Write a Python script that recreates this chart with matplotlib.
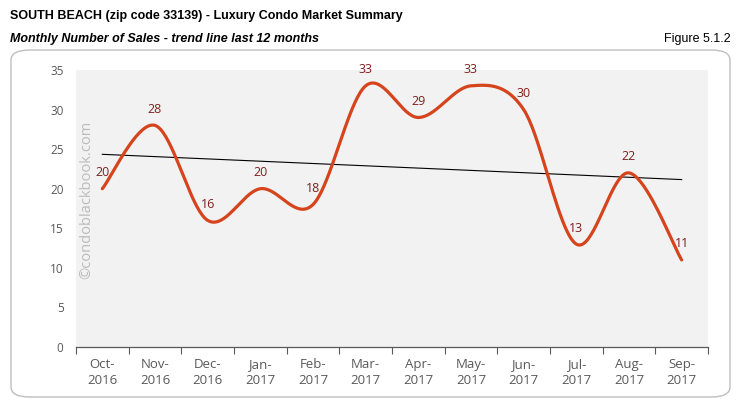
import matplotlib
matplotlib.use('Agg')
import matplotlib.pyplot as plt
from matplotlib.patches import FancyBboxPatch
import numpy as np

months = ['Oct-\n2016', 'Nov-\n2016', 'Dec-\n2016', 'Jan-\n2017', 'Feb-\n2017', 'Mar-\n2017',
          'Apr-\n2017', 'May-\n2017', 'Jun-\n2017', 'Jul-\n2017', 'Aug-\n2017', 'Sep-\n2017']
sales = [20, 28, 16, 20, 18, 33, 29, 33, 30, 13, 22, 11]
yticks = [0, 5, 10, 15, 20, 25, 30, 35]

title_font = ['Liberation Sans Narrow', 'Liberation Sans', 'DejaVu Sans']
axis_font = ['Open Sans', 'DejaVu Sans']


def smooth(x, y, n=40):
    # excel style smoothed line (catmull-rom through the points)
    p = np.column_stack([x, y]).astype(float)
    p = np.vstack([p[0], p, p[-1]])
    xs, ys = [], []
    t = np.linspace(0, 1, n)
    for i in range(1, len(p) - 2):
        p0, p1, p2, p3 = p[i - 1], p[i], p[i + 1], p[i + 2]
        c1 = p1 + (p2 - p0) / 6.0
        c2 = p2 - (p3 - p1) / 6.0
        b = (((1 - t) ** 3)[:, None] * p1 + (3 * (1 - t) ** 2 * t)[:, None] * c1
             + (3 * (1 - t) * t ** 2)[:, None] * c2 + (t ** 3)[:, None] * p2)
        xs.extend(b[:, 0])
        ys.extend(b[:, 1])
    return np.array(xs), np.array(ys)


fig = plt.figure(figsize=(7.41, 4.07), dpi=100)

# rounded frame around the chart
frame = FancyBboxPatch((11 / 741, 10 / 407), 719 / 741, 347 / 407,
                       boxstyle='round,pad=0,rounding_size=0.025',
                       transform=fig.transFigure, fill=False,
                       edgecolor='#BFBFBF', linewidth=1.0, zorder=-1)
fig.patches.append(frame)

fig.text(10 / 741, 1 - 19 / 407, 'SOUTH BEACH (zip code 33139) - Luxury Condo Market Summary',
         fontsize=9, fontweight='bold', family=title_font, va='baseline')
fig.text(10 / 741, 1 - 42 / 407, 'Monthly Number of Sales - trend line last 12 months',
         fontsize=9, fontweight='bold', style='italic', family=title_font, va='baseline')
fig.text(731 / 741, 1 - 42 / 407, 'Figure 5.1.2', fontsize=9, family=title_font,
         ha='right', va='baseline')

ax = fig.add_axes([76 / 741, 60 / 407, 632 / 741, 277 / 407])
ax.set_facecolor('#F2F2F2')

x = np.arange(len(sales))
sx, sy = smooth(x, sales)
ax.plot(sx, sy, color='#D5441C', linewidth=2.3, solid_capstyle='round', zorder=3)

# linear trend line
k, b0 = np.polyfit(x, sales, 1)
ax.plot([x[0], x[-1]], [k * x[0] + b0, k * x[-1] + b0], color='black', linewidth=0.8, zorder=2)

for xi, v in zip(x, sales):
    ax.annotate(str(v), (xi, v), xytext=(0, 11.5), textcoords='offset points',
                ha='center', va='center', fontsize=9, color='#7F1F1F', family=axis_font, zorder=4)

ax.set_xlim(-0.5, len(sales) - 0.5)
ax.set_ylim(0, 35)
ax.set_yticks(yticks)
ax.set_xticks(x)
ax.set_xticklabels(months)
ax.set_xticks(np.arange(-0.5, len(sales)), minor=True)
ax.tick_params(axis='x', which='major', length=0, pad=8, labelsize=9.5, labelcolor='#595959')
ax.tick_params(axis='x', which='minor', length=5, width=0.8, color='#595959', direction='out')
ax.tick_params(axis='y', length=0, pad=9, labelsize=8.5, labelcolor='#595959')
for lab in ax.get_xticklabels() + ax.get_yticklabels():
    lab.set_family(axis_font)
    lab.set_linespacing(1.3)

for s in ['top', 'right', 'left']:
    ax.spines[s].set_visible(False)
ax.spines['bottom'].set_color('#595959')
ax.spines['bottom'].set_linewidth(0.9)

ax.text(0.005, 0.53, '\u00a9condoblackbook.com', transform=ax.transAxes, rotation=90,
        ha='left', va='center', fontsize=10.5, color='#BBBBBB', family=axis_font)

fig.savefig('out.png', dpi=100)
